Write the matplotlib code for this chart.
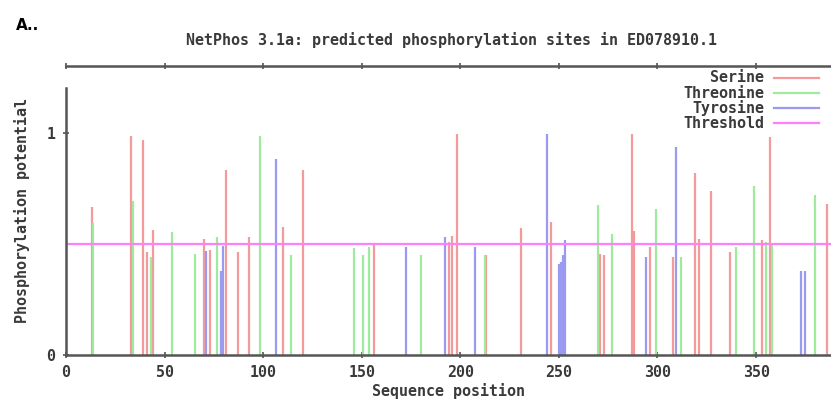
import matplotlib
matplotlib.use("Agg")
import matplotlib.pyplot as plt
from matplotlib.lines import Line2D

# ---- data ----
serine_pos = [13, 33, 39, 41, 44, 70, 73, 81, 87, 93, 110, 120, 156, 194, 196, 198.3,
              213, 231, 246, 271, 273, 287, 288, 296, 308, 319, 321, 327, 337, 353, 357, 386]
serine_val = [0.667, 0.988, 0.97, 0.462, 0.563, 0.523, 0.473, 0.835, 0.462, 0.532, 0.578,
              0.835, 0.503, 0.51, 0.535, 0.995, 0.45, 0.572, 0.60, 0.455, 0.45, 0.995, 0.56,
              0.485, 0.443, 0.82, 0.523, 0.74, 0.462, 0.518, 0.98, 0.68]

threonine_pos = [13.5, 34, 43, 54, 65.5, 76.5, 98.5, 114.3, 146, 150.5, 153.7, 180, 212.5,
                 270, 277, 299, 311.7, 340, 349, 355, 358, 380]
threonine_val = [0.595, 0.695, 0.44, 0.554, 0.455, 0.532, 0.988, 0.45, 0.48, 0.45, 0.485,
                 0.45, 0.45, 0.676, 0.545, 0.66, 0.443, 0.485, 0.763, 0.51, 0.50, 0.72]

tyrosine_pos = [71, 78.6, 79.8, 106.3, 172.6, 192.3, 207.4, 244, 250, 251, 252, 253, 294,
                309.3, 373, 375]
tyrosine_val = [0.468, 0.38, 0.49, 0.883, 0.485, 0.53, 0.488, 0.995, 0.41, 0.42, 0.45, 0.52,
                0.443, 0.935, 0.38, 0.38]

threshold = 0.5
x_ticks = [0, 50, 100, 150, 200, 250, 300, 350]
y_ticks = [0, 1]

# ---- style ----
C_SER = "#f49a9a"
C_THR = "#9eeb9e"
C_TYR = "#9a9af0"
C_THRESH = "#ff7fff"
AXC = "#555555"
TXT = "#3a3a3a"
MONO = "DejaVu Sans Mono"
FS = 10.8

fig = plt.figure(figsize=(8.31, 4.05), dpi=100)
ax = fig.add_axes([66 / 831, 50 / 405, 1 - 66 / 831, 289 / 405])

ax.vlines(serine_pos, 0, serine_val, colors=C_SER, linewidth=1.6)
ax.vlines(threonine_pos, 0, threonine_val, colors=C_THR, linewidth=1.6)
ax.vlines(tyrosine_pos, 0, tyrosine_val, colors=C_TYR, linewidth=1.6)
ax.axhline(threshold, color=C_THRESH, linewidth=1.6)

ax.set_xlim(0, 388)
ax.set_ylim(0, 1.302)

ax.spines["right"].set_visible(False)
for s in ["left", "bottom", "top"]:
    ax.spines[s].set_color(AXC)
    ax.spines[s].set_linewidth(1.8)
ax.spines["left"].set_bounds(0, 1.203)

ax.set_xticks(x_ticks)
ax.set_yticks(y_ticks)
ax.tick_params(axis="both", direction="inout", length=5, width=1.2, color=AXC,
               labelsize=FS, labelcolor=TXT, pad=5)
ax.tick_params(axis="x", top=True, labeltop=False)
for lab in ax.get_xticklabels() + ax.get_yticklabels():
    lab.set_fontfamily(MONO)
    lab.set_fontweight("bold")

ax.set_xlabel("Sequence position", fontfamily=MONO, fontweight="bold", fontsize=FS,
              color=TXT, labelpad=2)
ax.set_ylabel("Phosphorylation potential", fontfamily=MONO, fontweight="bold", fontsize=FS,
              color=TXT, labelpad=12)

fig.text(452 / 831, 1 - 40 / 405, "NetPhos 3.1a: predicted phosphorylation sites in ED078910.1",
         ha="center", va="center", fontfamily=MONO, fontweight="bold", fontsize=FS,
         color=TXT)
fig.text(16 / 831, 1 - 25 / 405, "A..", ha="left", va="center", fontfamily="DejaVu Sans",
         fontweight="bold", fontsize=11, color="black")

# legend
leg_items = [("Serine", C_SER), ("Threonine", C_THR), ("Tyrosine", C_TYR), ("Threshold", C_THRESH)]
rows_y = [78, 93, 108, 123]
for (name, col), yy in zip(leg_items, rows_y):
    fy = 1 - yy / 405
    fig.text(764 / 831, fy, name, ha="right", va="center", fontfamily=MONO,
             fontweight="bold", fontsize=FS, color=TXT)
    fig.add_artist(Line2D([774 / 831, 819 / 831], [fy, fy], color=col, linewidth=1.6,
                          transform=fig.transFigure))

fig.savefig("out.png", dpi=100)
